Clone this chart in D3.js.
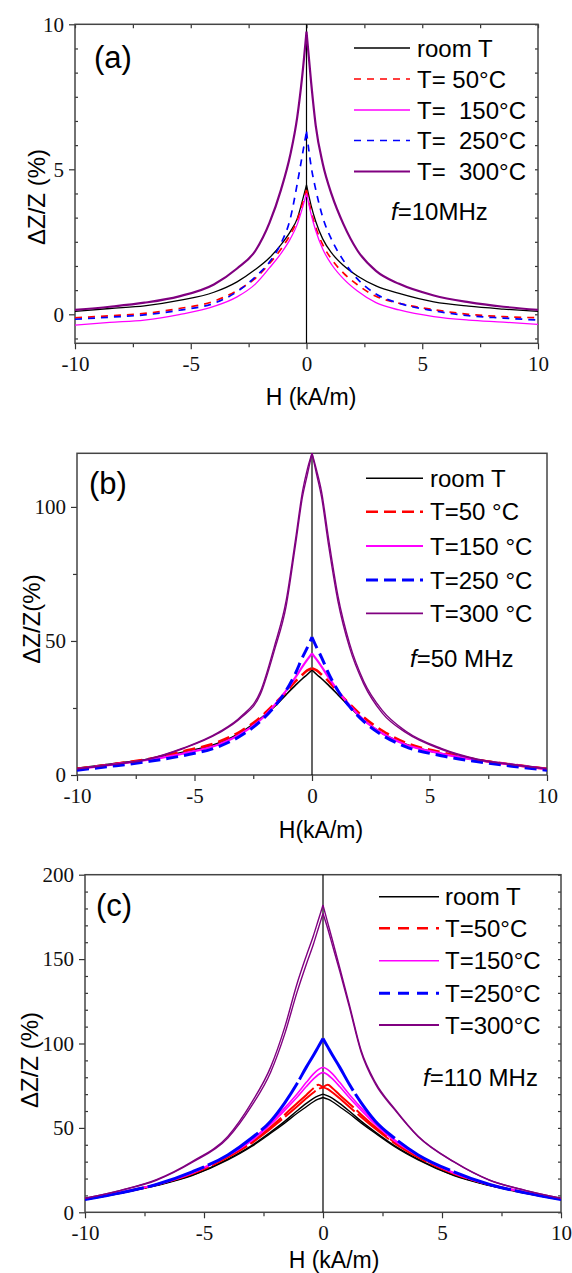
<!DOCTYPE html>
<html>
<head>
<meta charset="UTF-8">
<title>GMI ratio vs field</title>
<style>
  body { margin: 0; background: #fff; }
  text { white-space: pre; }
</style>
</head>
<body>
<svg id="chart" width="572" height="1273"></svg>
<script src="https://d3js.org/d3.v7.min.js"></script>
<script>
// applied field H (kA/m), same sweep points for every curve
var field = [-10, -8.5, -7, -5.5, -4, -3, -2.2, -1.6, -1.1, -0.7, -0.4, -0.2, 0, 0.2, 0.4, 0.7, 1.1, 1.6, 2.2, 3, 4, 5.5, 7, 8.5, 10];

// panel (a) f = 10 MHz
var roomA = [0.10, 0.20, 0.29, 0.48, 0.76, 1.12, 1.55, 1.95, 2.40, 2.85, 3.30, 3.85, 4.46, 3.75, 3.20, 2.60, 2.10, 1.68, 1.32, 0.98, 0.72, 0.43, 0.28, 0.18, 0.10];
var t50A = [-0.12, -0.05, 0.03, 0.20, 0.45, 0.82, 1.25, 1.75, 2.25, 2.75, 3.25, 3.75, 4.29, 3.55, 3.00, 2.40, 1.88, 1.42, 1.02, 0.62, 0.38, 0.16, 0.00, -0.08, -0.12];
var t150A = [-0.37, -0.28, -0.20, -0.01, 0.27, 0.60, 1.05, 1.60, 2.10, 2.60, 3.10, 3.60, 4.17, 3.45, 2.88, 2.25, 1.70, 1.22, 0.80, 0.40, 0.15, -0.08, -0.20, -0.27, -0.35];
var t250A = [-0.17, -0.10, -0.02, 0.14, 0.38, 0.78, 1.30, 1.80, 2.45, 3.30, 4.50, 5.40, 6.30, 5.10, 4.30, 3.35, 2.55, 1.85, 1.22, 0.70, 0.38, 0.12, -0.05, -0.13, -0.20];
var t300A = [0.15, 0.26, 0.40, 0.62, 1.03, 1.58, 2.20, 3.15, 4.30, 5.50, 6.80, 8.10, 9.75, 8.00, 6.50, 5.20, 4.10, 3.10, 2.20, 1.50, 1.05, 0.65, 0.42, 0.26, 0.15];

// panel (b) f = 50 MHz
var roomB = [2.5, 4.2, 5.9, 8.5, 11.8, 16.0, 21.0, 25.5, 30.0, 33.5, 36.0, 37.5, 39.2, 37.5, 36.0, 33.5, 30.0, 25.5, 20.5, 15.5, 11.5, 8.0, 5.8, 4.0, 2.4];
var t50B = [2.3, 4.0, 5.9, 8.8, 12.3, 16.5, 21.5, 26.5, 31.0, 35.0, 37.5, 39.0, 39.8, 39.0, 37.5, 35.0, 31.0, 26.5, 21.5, 16.5, 12.0, 8.5, 5.8, 3.9, 2.3];
var t150B = [2.2, 3.9, 5.6, 8.0, 11.3, 15.5, 20.5, 26.0, 31.5, 36.5, 40.5, 43.0, 45.4, 43.0, 40.5, 36.5, 31.5, 26.0, 20.5, 15.5, 11.3, 8.0, 5.6, 3.9, 2.2];
var t250B = [1.8, 3.3, 5.0, 7.2, 10.5, 14.8, 20.0, 25.5, 31.5, 38.0, 44.0, 47.5, 51.4, 47.5, 44.0, 38.0, 31.5, 25.5, 20.0, 14.8, 10.5, 7.2, 5.0, 3.3, 1.8];
var t300B = [2.3, 3.9, 5.8, 9.8, 15.5, 21.5, 30.0, 46.5, 63.0, 86.0, 104.0, 112.0, 120.0, 112.0, 104.0, 86.0, 65.0, 47.5, 34.0, 23.0, 15.8, 9.6, 5.8, 3.9, 2.3];
var t300Bret = [2.3, 3.9, 5.9, 10.0, 15.8, 22.0, 31.0, 48.0, 65.0, 88.0, 106.0, 114.0, 120.0, 113.5, 106.0, 88.5, 67.0, 49.0, 35.0, 24.0, 16.3, 9.9, 6.0, 3.9, 2.3];

// panel (c) f = 110 MHz
var roomC = [7.5, 11.5, 16.0, 22.0, 31.5, 39.5, 47.5, 54.0, 60.0, 64.5, 67.5, 69.0, 70.0, 69.0, 67.5, 64.5, 60.0, 54.0, 47.5, 39.5, 31.5, 22.0, 16.0, 11.5, 7.5];
var roomCret = [7.5, 11.3, 15.8, 21.7, 31.0, 39.0, 46.8, 53.0, 58.5, 62.5, 65.5, 67.0, 68.0, 67.0, 65.5, 62.5, 58.5, 53.0, 46.8, 39.0, 31.0, 21.7, 15.8, 11.3, 7.5];
var t50C = [7.8, 11.8, 16.5, 23.0, 33.0, 41.5, 50.5, 58.0, 64.5, 69.5, 73.5, 75.5, 74.0, 73.0, 71.0, 67.5, 62.5, 56.5, 49.5, 41.0, 32.5, 22.8, 16.3, 11.6, 7.7];
var t50Cret = [7.7, 11.6, 16.3, 22.8, 32.5, 41.0, 49.5, 56.5, 62.5, 67.5, 71.0, 73.0, 74.0, 75.5, 73.5, 69.5, 64.5, 58.0, 50.5, 41.5, 33.0, 23.0, 16.5, 11.8, 7.8];
var t150C = [8.0, 12.0, 16.5, 23.5, 34.0, 43.0, 53.0, 62.0, 70.0, 77.0, 82.0, 84.5, 86.0, 84.5, 82.0, 77.0, 70.0, 62.0, 53.0, 43.0, 34.0, 23.5, 16.5, 12.0, 8.0];
var t150Cret = [8.0, 11.8, 16.3, 23.2, 33.5, 42.3, 52.0, 60.5, 68.0, 74.5, 79.0, 81.5, 83.0, 81.5, 79.0, 74.5, 68.0, 60.5, 52.0, 42.3, 33.5, 23.2, 16.3, 11.8, 8.0];
var t250C = [7.5, 11.5, 16.5, 24.0, 34.0, 44.0, 54.0, 65.0, 76.0, 86.0, 93.0, 98.0, 103.0, 98.0, 93.0, 86.0, 76.0, 65.0, 54.0, 44.0, 34.0, 24.0, 16.5, 11.5, 7.5];
var t300C = [8.3, 13.0, 19.3, 30.0, 45.0, 65.0, 86.0, 110.0, 135.0, 152.0, 164.0, 173.0, 182.0, 171.5, 161.0, 145.0, 123.5, 96.0, 77.0, 61.5, 45.0, 30.0, 19.1, 13.0, 8.3];
var t300Cret = [8.3, 13.0, 19.0, 29.5, 44.0, 63.0, 83.0, 106.0, 130.0, 147.0, 159.0, 168.0, 177.0, 168.0, 158.0, 143.0, 122.0, 95.0, 76.0, 61.0, 44.8, 29.8, 19.0, 13.0, 8.3];

var xTicks = [-10, -5, 0, 5, 10];
var xMinor = [-7.5, -2.5, 2.5, 7.5];

var labelsA = ["room T", "T= 50°C", "T=  150°C", "T=  250°C", "T=  300°C"];
var labelsB = ["room T", "T=50 °C", "T=150 °C", "T=250 °C", "T=300 °C"];
var labelsC = ["room T", "T=50°C", "T=150°C", "T=250°C", "T=300°C"];

var colors = ["#000000", "#ff0000", "#ff00ff", "#0000ff", "#800080"];

var svg = d3.select("#chart");
var serif = "'Liberation Serif', 'Times New Roman', serif";
var sans = "'Liberation Sans', Arial, sans-serif";
var plain = function(d) { return String(d); };   // hyphen minus like the original

function drawPanel(p, idx) {
  var x = d3.scaleLinear().domain([-10, 10]).range([p.left, p.right]);
  var y = d3.scaleLinear().domain(p.ydom).range([p.bottom, p.top]);
  var g = svg.append("g");

  var clipId = "clip" + idx;
  g.append("clipPath").attr("id", clipId)
    .append("rect").attr("x", p.left).attr("y", p.top - 1)
    .attr("width", p.right - p.left).attr("height", p.bottom - p.top + 1);

  function styleAxis(a, labels) {
    a.select(".domain").remove();
    a.selectAll("line").attr("stroke", "#333").attr("stroke-width", 1.2);
    a.attr("font-family", serif).attr("font-size", 21);
    a.selectAll("text").attr("fill", "#111");
    if (!labels) a.selectAll("text").remove();
  }

  // bottom axis, ticks outward
  styleAxis(g.append("g").attr("transform", "translate(0," + p.bottom + ")")
    .call(d3.axisBottom(x).tickValues(xTicks).tickSize(6).tickPadding(7).tickFormat(plain)), true);
  styleAxis(g.append("g").attr("transform", "translate(0," + p.bottom + ")")
    .call(d3.axisBottom(x).tickValues(xMinor).tickSize(4).tickFormat("")), false);
  if (p.topTicks) {
    styleAxis(g.append("g").attr("transform", "translate(0," + p.top + ")")
      .call(d3.axisBottom(x).tickValues(xMinor.concat(xTicks)).tickSize(4).tickFormat("")), false);
  }

  // left axis
  styleAxis(g.append("g").attr("transform", "translate(" + p.left + ",0)")
    .call(d3.axisLeft(y).tickValues(p.yTicks).tickSize(6).tickPadding(5).tickFormat(plain)), true);
  if (p.yMinorOut) {
    styleAxis(g.append("g").attr("transform", "translate(" + p.left + ",0)")
      .call(d3.axisLeft(y).tickValues(p.yMinorOut).tickSize(4).tickFormat("")), false);
  }
  if (p.yMinorIn) {
    styleAxis(g.append("g").attr("transform", "translate(" + p.left + ",0)")
      .call(d3.axisRight(y).tickValues(p.yMinorIn).tickSize(3).tickFormat("")), false);
    styleAxis(g.append("g").attr("transform", "translate(" + p.right + ",0)")
      .call(d3.axisLeft(y).tickValues(p.yMinorIn.concat(p.yTicks)).tickSize(3).tickFormat("")), false);
  }

  // frame
  g.append("rect")
    .attr("x", p.left).attr("y", p.top)
    .attr("width", p.right - p.left).attr("height", p.bottom - p.top)
    .attr("fill", "none").attr("stroke", "#444").attr("stroke-width", 1.5);

  // H = 0 line
  g.append("line")
    .attr("x1", x(0)).attr("x2", x(0)).attr("y1", p.top).attr("y2", p.bottom)
    .attr("stroke", "#000").attr("stroke-width", 1.2);

  // each sweep is smoothed on either side of H = 0 so the cusp stays sharp
  var line = d3.line()
    .x(function(d) { return x(d[0]); })
    .y(function(d) { return y(d[1]); })
    .curve(d3.curveMonotoneX);
  var plot = g.append("g").attr("clip-path", "url(#" + clipId + ")");

  p.series.forEach(function(s, i) {
    s.data.forEach(function(vals) {
      var pts = field.map(function(h, k) { return [h, vals[k]]; });
      var neg = pts.filter(function(d) { return d[0] <= 0; });
      var pos = pts.filter(function(d) { return d[0] >= 0; });
      plot.append("path")
        .attr("d", line(neg) + line(pos))
        .attr("fill", "none")
        .attr("stroke", colors[i])
        .attr("stroke-width", s.w)
        .attr("stroke-linejoin", "round")
        .attr("stroke-dasharray", s.plotDash || s.dash || null);
    });
  });

  // legend
  p.labels.forEach(function(lab, i) {
    var s = p.series[i];
    var ly = p.legendY[i];
    g.append("line")
      .attr("x1", p.legX0).attr("x2", p.legX1).attr("y1", ly).attr("y2", ly)
      .attr("stroke", colors[i]).attr("stroke-width", s.lw || s.w)
      .attr("stroke-dasharray", s.dash || null);
    g.append("text")
      .attr("x", p.legText).attr("y", ly).attr("dy", "0.36em")
      .attr("font-family", sans).attr("font-size", 24)
      .text(lab);
  });

  // frequency note
  var ft = g.append("text")
    .attr("x", p.fx).attr("y", p.fy).attr("dy", "0.36em")
    .attr("font-family", sans).attr("font-size", 24);
  ft.append("tspan").attr("font-style", "italic").text("f");
  ft.append("tspan").text(p.ftext);

  // panel letter
  g.append("text")
    .attr("x", p.tagX).attr("y", p.tagY).attr("dy", "0.36em")
    .attr("text-anchor", "middle")
    .attr("font-family", sans).attr("font-size", 31)
    .text(p.tag);

  // axis titles
  g.append("text")
    .attr("x", p.xtX).attr("y", p.xtY).attr("dy", "0.36em")
    .attr("text-anchor", "middle")
    .attr("font-family", sans).attr("font-size", 23)
    .text(p.xTitle);
  g.append("text")
    .attr("transform", "translate(" + p.ytX + "," + p.ytY + ") rotate(-90)")
    .attr("dy", "0.36em")
    .attr("text-anchor", "middle")
    .attr("font-family", sans).attr("font-size", 24)
    .text(p.yTitle);
}

// minor tick positions on the y axes
var minorA = d3.range(-1, 13).map(function(i) { return i * 5 / 6; })
  .filter(function(v) { return v > -1 && v < 10 && Math.abs(v - 5) > 0.01 && Math.abs(v) > 0.01; });
var minorC = d3.range(1, 20).map(function(i) { return i * 10; })
  .filter(function(v) { return v % 50 !== 0; });

drawPanel({
  left: 75, right: 538, top: 24.3, bottom: 343.3,
  ydom: [-1, 10], yTicks: [0, 5, 10], yMinorIn: minorA, topTicks: true,
  series: [
    { data: [roomA], w: 1.3 },
    { data: [t50A], w: 1.7, dash: "7,6" },
    { data: [t150A], w: 1.3 },
    { data: [t250A], w: 1.7, dash: "7,6" },
    { data: [t300A], w: 2.2 }
  ],
  labels: labelsA, legendY: [48, 79, 110, 140.5, 171.5],
  legX0: 354, legX1: 410, legText: 417,
  fx: 391, fy: 211, ftext: "=10MHz",
  tag: "(a)", tagX: 113, tagY: 57,
  xTitle: "H (kA/m)", xtX: 311, xtY: 397,
  yTitle: "ΔZ/Z (%)", ytX: 36, ytY: 197
}, 0);

drawPanel({
  left: 77, right: 547, top: 453.3, bottom: 775,
  ydom: [0, 120], yTicks: [0, 50, 100], yMinorOut: [25, 75],
  series: [
    { data: [roomB], w: 1.6 },
    { data: [t50B], w: 2.6, dash: "12,6" },
    { data: [t150B], w: 2.2 },
    { data: [t250B], w: 3, dash: "12,6" },
    { data: [t300B, t300Bret], w: 1.4, lw: 1.8 }
  ],
  labels: labelsB, legendY: [478.3, 511.7, 546, 580, 613.3],
  legX0: 366, legX1: 423, legText: 430,
  fx: 410, fy: 658, ftext: "=50 MHz",
  tag: "(b)", tagX: 108, tagY: 483,
  xTitle: "H(kA/m)", xtX: 321, xtY: 830,
  yTitle: "ΔZ/Z(%)", ytX: 31, ytY: 619
}, 1);

drawPanel({
  left: 85, right: 561, top: 874.7, bottom: 1212.3,
  ydom: [0, 200], yTicks: [0, 50, 100, 150, 200], yMinorIn: minorC,
  series: [
    { data: [roomC, roomCret], w: 1.4, lw: 1.6 },
    { data: [t50C, t50Cret], w: 2, lw: 2.4, dash: "11,8", plotDash: "40,4" },
    { data: [t150C, t150Cret], w: 1.6 },
    { data: [t250C], w: 3, dash: "11,8", plotDash: "60,4" },
    { data: [t300C, t300Cret], w: 1.4, lw: 1.8 }
  ],
  labels: labelsC, legendY: [896.7, 928.3, 960.7, 993.3, 1025],
  legX0: 379, legX1: 439, legText: 445,
  fx: 423, fy: 1077, ftext: "=110 MHz",
  tag: "(c)", tagX: 114, tagY: 905,
  xTitle: "H (kA/m)", xtX: 334, xtY: 1260,
  yTitle: "ΔZ/Z (%)", ytX: 29, ytY: 1060
}, 2);
</script>
</body>
</html>
